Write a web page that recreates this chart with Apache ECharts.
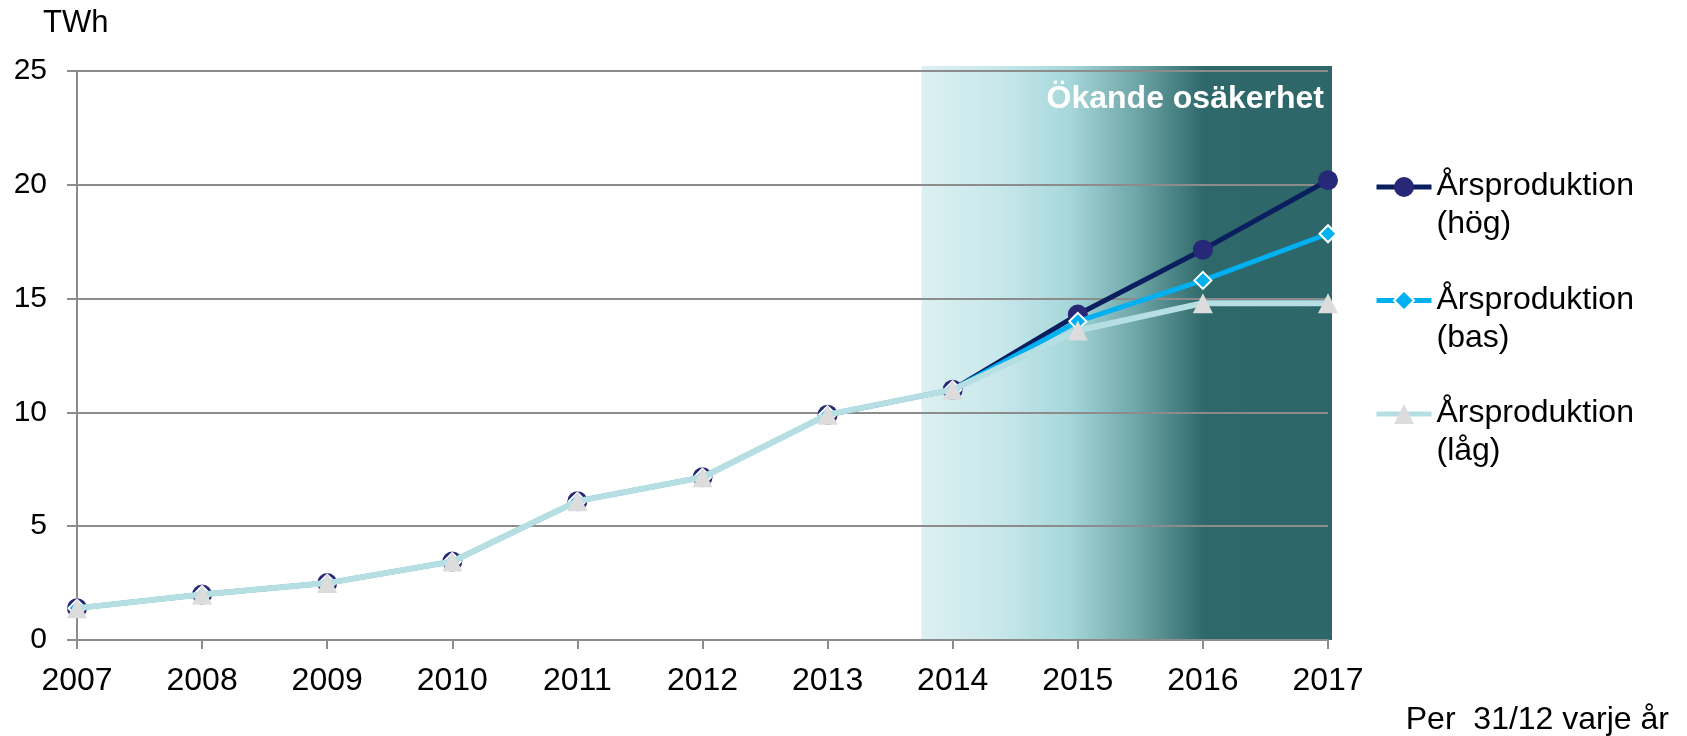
<!DOCTYPE html>
<html>

<head>
    <meta charset="utf-8">
    <style>
        body {
            margin: 0;
            background-color: #fff;
        }

        #main {
            width: 1687px;
            height: 736px;
        }
    </style>
</head>

<body>
    <div id="main"></div>

    <script src="https://cdn.jsdelivr.net/npm/echarts@6/dist/echarts.min.js"></script>
    <script type="text/javascript">
        var years = [2007, 2008, 2009, 2010, 2011, 2012, 2013, 2014, 2015, 2016, 2017];
        var hog = [1.4, 2.0, 2.5, 3.45, 6.1, 7.15, 9.9, 11.0, 14.3, 17.15, 20.2];
        var bas = [1.4, 2.0, 2.5, 3.45, 6.1, 7.15, 9.9, 11.0, 14.0, 15.8, 17.85];
        var lag = [1.4, 2.0, 2.5, 3.45, 6.1, 7.15, 9.9, 11.0, 13.6, 14.8, 14.8];
        var seriesNames = ['Årsproduktion\n(hög)', 'Årsproduktion\n(bas)', 'Årsproduktion\n(låg)'];
        var yTicks = [0, 5, 10, 15, 20, 25];
        var bandFrom = 2013.75; // där skuggningen börjar

        var font = '"Liberation Sans", Arial, Helvetica, sans-serif';

        function pairs(vals) {
            return years.map(function (y, i) { return [y, vals[i]]; });
        }

        var myChart = echarts.init(document.getElementById('main'));

        var option = {
            animation: false,
            backgroundColor: '#fff',
            textStyle: { fontFamily: font },
            grid: {
                left: 77,
                right: 359,
                top: 71,
                bottom: 96
            },
            legend: {
                orient: 'vertical',
                left: 1374,
                top: 144,
                padding: 0,
                itemWidth: 55,
                itemHeight: 25,
                itemGap: 17,
                data: seriesNames,
                lineStyle: { width: 5 },
                // första raden i höjd med symbolen
                formatter: function (name) {
                    var p = name.split('\n');
                    return '{p| }\n{a|' + p[0] + '}\n{a|' + p[1] + '}';
                },
                textStyle: {
                    fontFamily: font,
                    color: '#000',
                    rich: {
                        p: { fontSize: 10, lineHeight: 37 },
                        a: { fontFamily: font, fontSize: 32, lineHeight: 38, color: '#000' }
                    }
                }
            },
            xAxis: {
                type: 'value',
                min: years[0],
                max: years[years.length - 1],
                interval: 1,
                axisLine: { show: true, lineStyle: { color: '#8c8c8c', width: 2 } },
                axisTick: { show: true, length: 9, lineStyle: { color: '#8c8c8c', width: 2 } },
                splitLine: { show: false },
                axisLabel: {
                    fontSize: 32,
                    color: '#000',
                    margin: 25,
                    formatter: function (v) { return String(v); }
                }
            },
            yAxis: {
                type: 'value',
                min: yTicks[0],
                max: yTicks[yTicks.length - 1],
                interval: 5,
                axisLine: { show: true, lineStyle: { color: '#8c8c8c', width: 2 } },
                axisTick: { show: true, length: 10, lineStyle: { color: '#8c8c8c', width: 2 } },
                splitLine: { show: true, lineStyle: { color: '#8c8c8c', width: 2 } },
                axisLabel: {
                    fontSize: 30,
                    color: '#000',
                    margin: 30
                }
            },
            series: [
                {
                    name: seriesNames[0],
                    type: 'line',
                    data: pairs(hog),
                    symbol: 'circle',
                    symbolSize: 20,
                    lineStyle: { color: '#0b1f5f', width: 5 },
                    itemStyle: { color: '#282879' },
                    z: 3
                },
                {
                    name: seriesNames[1],
                    type: 'line',
                    data: pairs(bas),
                    symbol: 'diamond',
                    symbolSize: 17,
                    lineStyle: { color: '#00b0f0', width: 5 },
                    itemStyle: { color: '#00b0f0', borderColor: '#fff', borderWidth: 2 },
                    z: 4
                },
                {
                    name: seriesNames[2],
                    type: 'line',
                    data: pairs(lag),
                    symbol: 'triangle',
                    symbolSize: 20,
                    lineStyle: { color: '#b6dfe3', width: 6 },
                    itemStyle: { color: '#dcdcdc' },
                    z: 5
                }
            ]
        };

        myChart.setOption(option);

        // skuggat område + texter, placerat från axlarnas skalor
        var x0 = myChart.convertToPixel({ xAxisIndex: 0 }, bandFrom);
        var x1 = myChart.convertToPixel({ xAxisIndex: 0 }, years[years.length - 1]);
        var yTop = myChart.convertToPixel({ yAxisIndex: 0 }, yTicks[yTicks.length - 1]) - 5;
        var yBot = myChart.convertToPixel({ yAxisIndex: 0 }, 0);

        myChart.setOption({
            graphic: [
                {
                    type: 'rect',
                    z: -1,
                    silent: true,
                    shape: { x: x0, y: yTop, width: x1 - x0 + 4, height: yBot - yTop },
                    style: {
                        fill: new echarts.graphic.LinearGradient(0, 0, 1, 0, [
                            { offset: 0, color: '#dcf0f2' },
                            { offset: 0.2, color: '#c6e7ea' },
                            { offset: 0.36, color: '#a6d7da' },
                            { offset: 0.52, color: '#70a7a9' },
                            { offset: 0.69, color: '#2e686a' },
                            { offset: 1, color: '#2d6769' }
                        ])
                    }
                },
                {
                    type: 'text',
                    z: 10,
                    silent: true,
                    x: x1 - 4,
                    y: yTop + 33,
                    style: {
                        text: 'Ökande osäkerhet',
                        fill: '#fff',
                        font: 'bold 32px ' + font,
                        textAlign: 'right',
                        textVerticalAlign: 'middle'
                    }
                },
                {
                    type: 'text',
                    left: 43,
                    top: 8,
                    style: {
                        text: 'TWh',
                        fill: '#000',
                        font: '31px ' + font
                    }
                },
                {
                    type: 'text',
                    right: 18,
                    top: 704,
                    style: {
                        text: 'Per  31/12 varje år',
                        fill: '#000',
                        font: '32px ' + font
                    }
                }
            ]
        });
    </script>
</body>

</html>
